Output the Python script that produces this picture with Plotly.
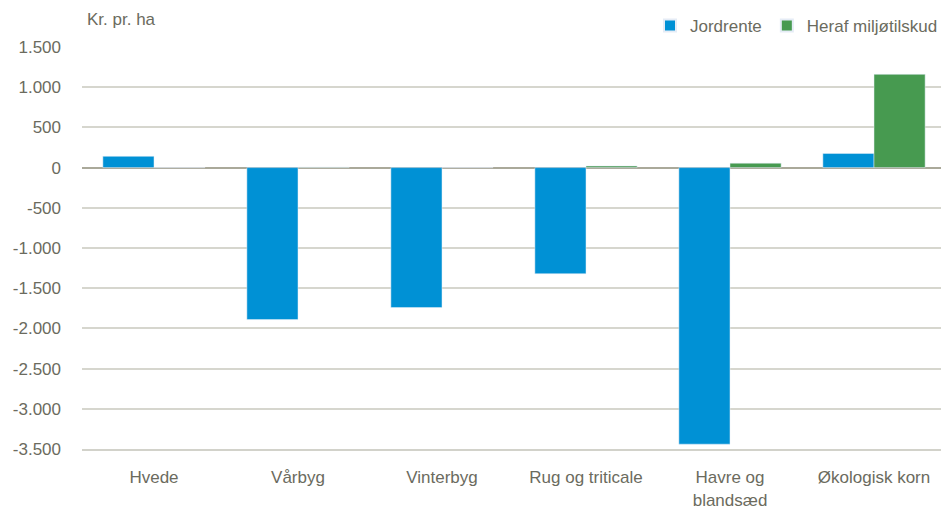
import plotly.graph_objects as go

categories = ["Hvede", "Vårbyg", "Vinterbyg", "Rug og triticale", "Havre og<br>blandsæd", "Økologisk korn"]
jordrente = [140, -1890, -1740, -1320, -3440, 175]
miljotilskud = [0, 5, 0, 20, 55, 1160]
tick_vals = [1500, 1000, 500, 0, -500, -1000, -1500, -2000, -2500, -3000, -3500]
tick_text = ["1.500", "1.000", "500", "0", "-500", "-1.000", "-1.500", "-2.000", "-2.500", "-3.000", "-3.500"]

font_family = "Liberation Sans, Arial"
text_color = "#6b6b5e"

# page body has an 8px margin, so the figure is offset by 8px
W, H = 941, 500
t_m, b_m = 0, 59
plot_top = 39
dom_top = 1 - (plot_top - t_m) / (H - t_m - b_m)

fig = go.Figure()
fig.add_trace(go.Bar(x=categories, y=jordrente, name="Jordrente", marker_color="#0091D5"))
fig.add_trace(go.Bar(x=categories, y=miljotilskud, name="Heraf miljøtilskud", marker_color="#479A50"))

fig.update_layout(
    width=W, height=H,
    margin=dict(l=74, r=3, t=t_m, b=b_m),
    plot_bgcolor="white", paper_bgcolor="white",
    barmode="group", bargap=0.29, bargroupgap=0,
    font=dict(family=font_family, size=17, color=text_color),
    showlegend=True,
    legend=dict(orientation="h", x=(935 - 74) / (W - 77), xanchor="right", y=1.0, yanchor="top",
                font=dict(size=17, color=text_color), traceorder="normal",
                itemsizing="constant", itemwidth=30, tracegroupgap=0),
    annotations=[dict(text="Kr. pr. ha", xref="paper", yref="paper", x=0.004, y=1.0,
                      xanchor="left", yanchor="top", showarrow=False,
                      font=dict(size=17, color=text_color))],
)
fig.update_yaxes(range=[-3500, 1500], tickvals=tick_vals, ticktext=tick_text,
                 domain=[0, dom_top], automargin=False,
                 showgrid=True, gridcolor="#d6d6ce", gridwidth=1.5,
                 zeroline=True, zerolinecolor="#aaa99a", zerolinewidth=2,
                 showline=False, ticks="", ticklabelstandoff=20)
fig.update_xaxes(showgrid=False, showline=True, linecolor="#d2d2ca", linewidth=2,
                 ticks="", ticklabelstandoff=12, automargin=False)

fig.write_html("out.html")
